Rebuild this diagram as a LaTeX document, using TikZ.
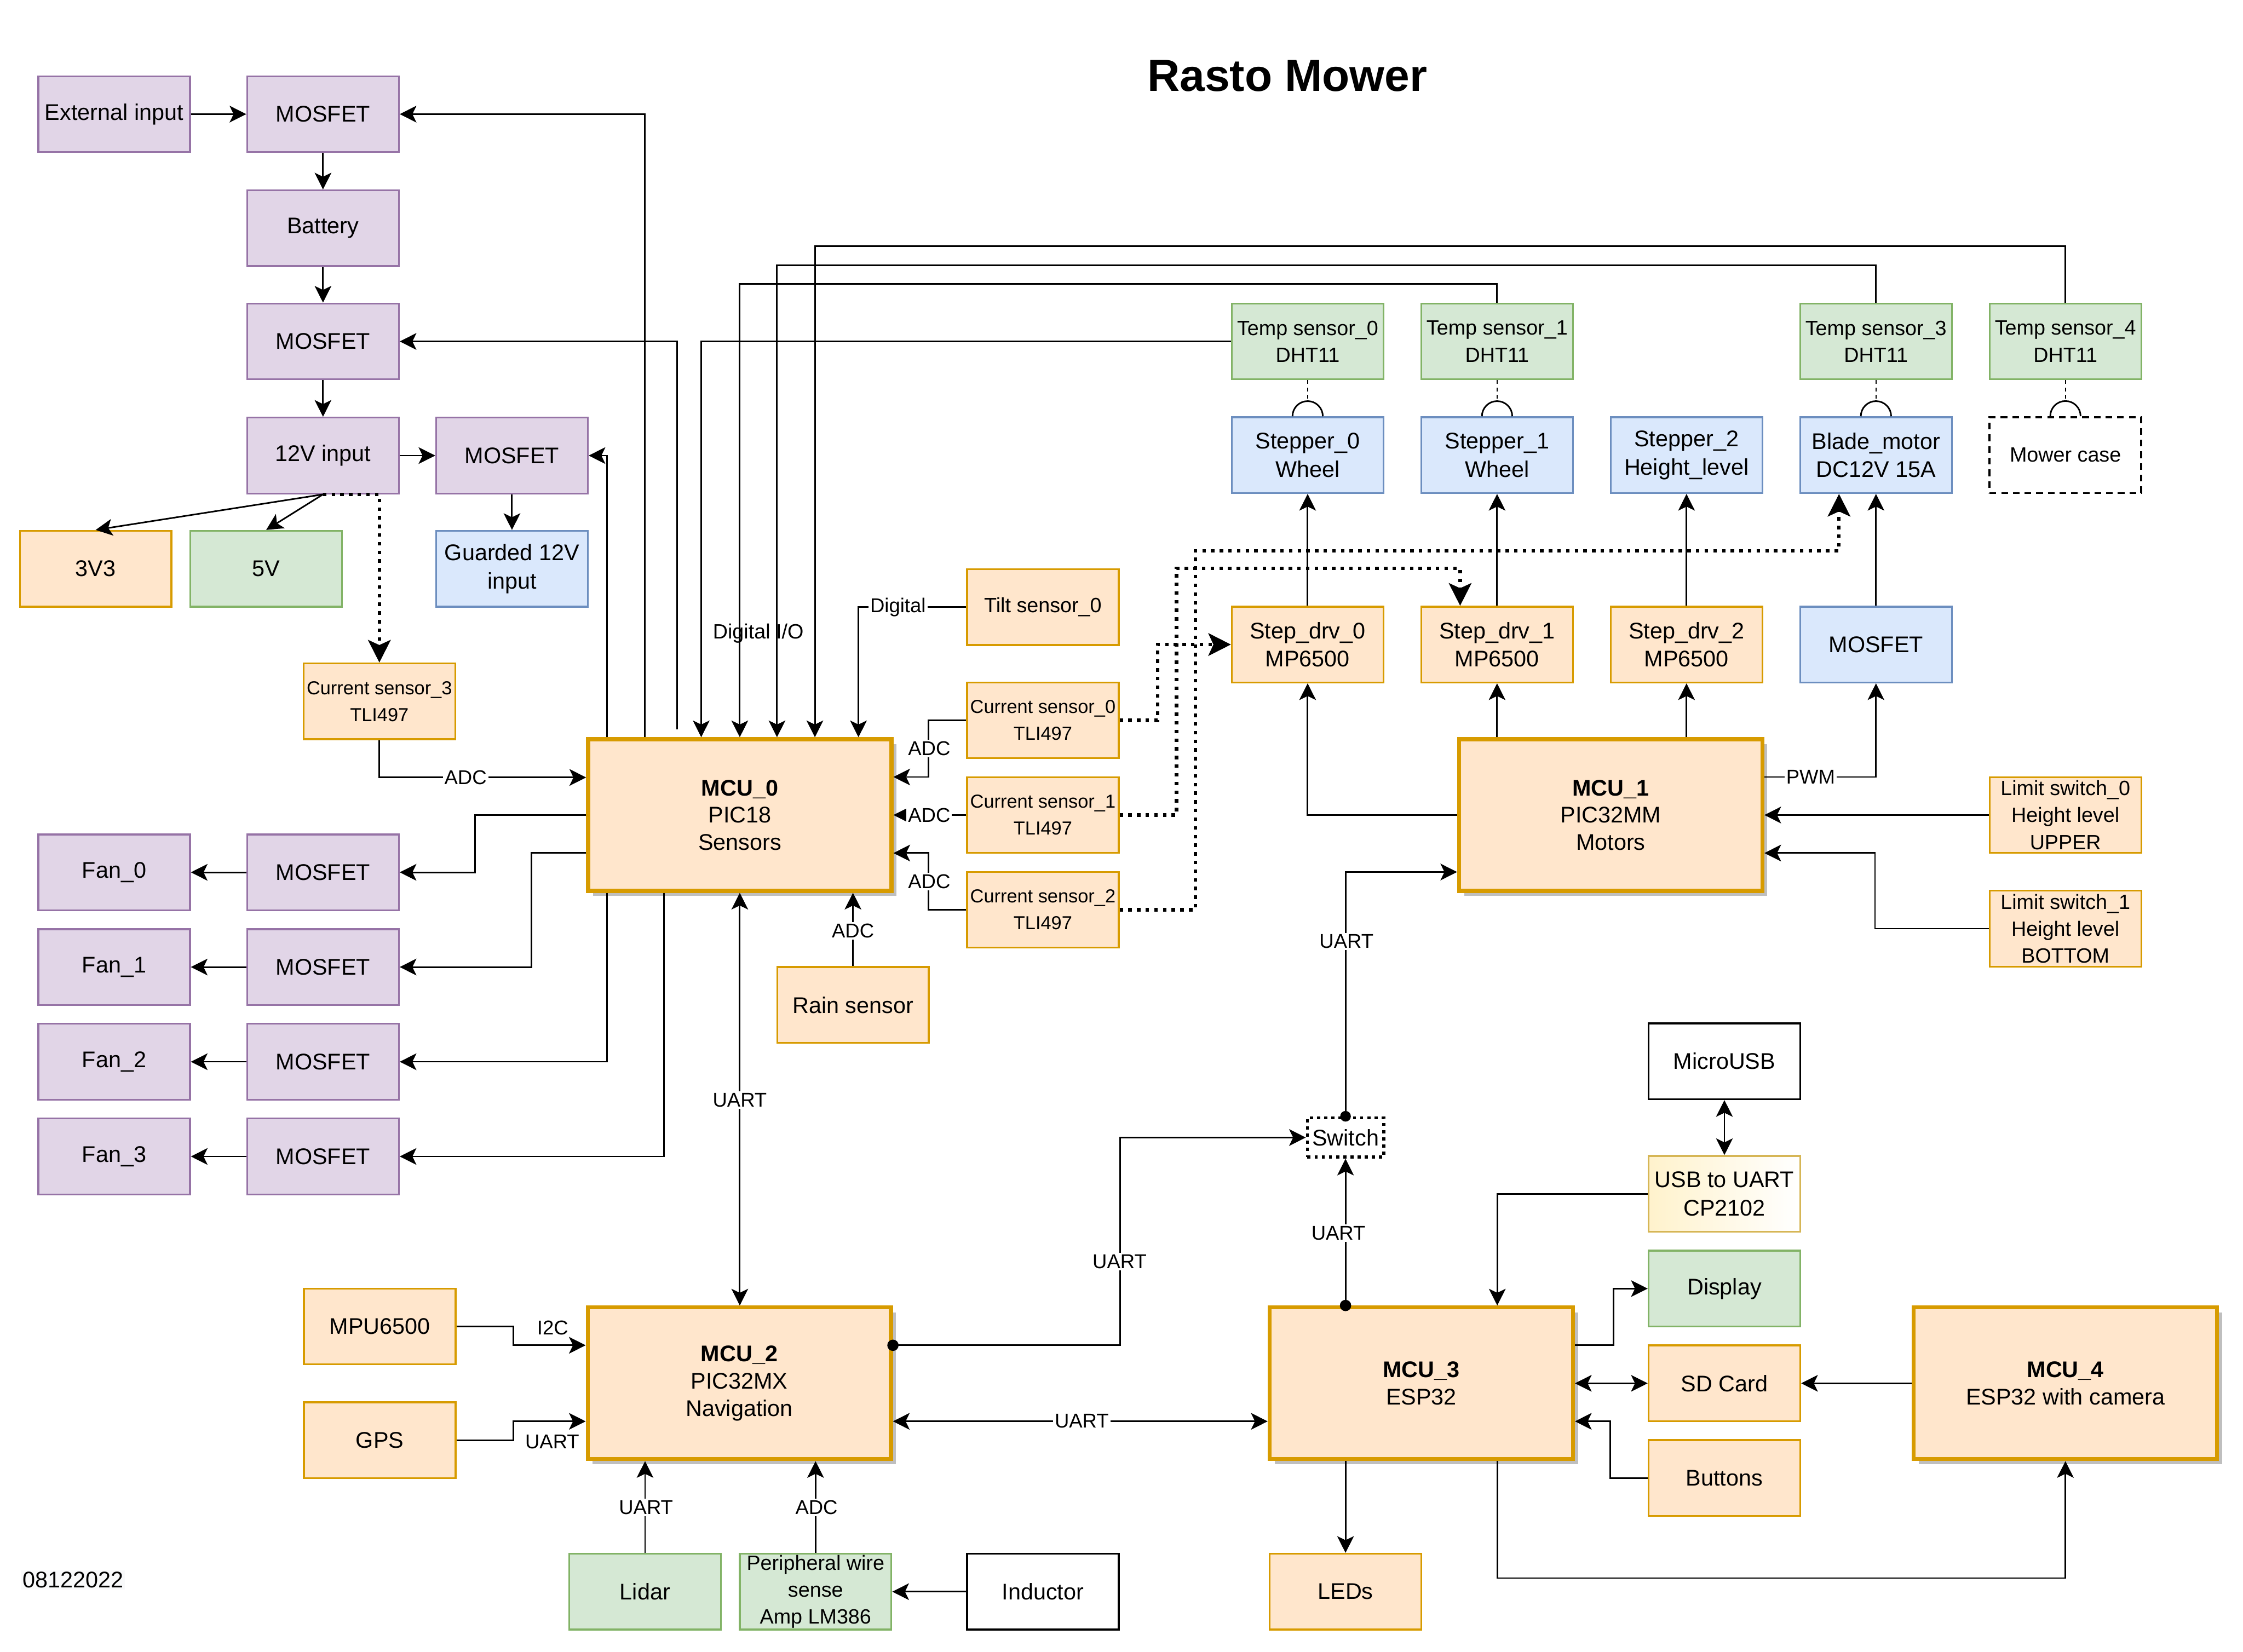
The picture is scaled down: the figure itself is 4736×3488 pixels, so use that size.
\documentclass[tikz,border=0pt]{standalone}
\usepackage{fontspec}
\setmainfont{Liberation Sans}
\usetikzlibrary{arrows.meta,calc,shadows}
\definecolor{pfill}{HTML}{E1D5E7}
\definecolor{pdraw}{HTML}{9673A6}
\definecolor{ofill}{HTML}{FFE6CC}
\definecolor{odraw}{HTML}{D79B00}
\definecolor{gfill}{HTML}{D5E8D4}
\definecolor{gdraw}{HTML}{82B366}
\definecolor{blfill}{HTML}{DAE8FC}
\definecolor{bldraw}{HTML}{6C8EBF}
\definecolor{yfill}{HTML}{FFF2CC}
\definecolor{ydraw}{HTML}{D6B656}
\definecolor{datebg}{HTML}{F8F9FA}
\newcommand\fmain{\fontsize{13.6}{17}\selectfont}
\newcommand\fmcu{\fontsize{13.6}{16.3}\selectfont}
\newcommand\fmid{\fontsize{12.4}{16.2}\selectfont}
\newcommand\fsmall{\fontsize{11.3}{16.2}\selectfont}
\newcommand\flab{\fontsize{12}{14}\selectfont}
\begin{document}
\begin{tikzpicture}[x=0.01cm,y=-0.01cm,
  box/.style={draw, minimum width=3.2cm, minimum height=1.6cm, inner sep=0.5pt, align=center, line width=1.1pt, font=\fmain},
  pbox/.style={box, fill=pfill, draw=pdraw},
  obox/.style={box, fill=ofill, draw=odraw},
  gbox/.style={box, fill=gfill, draw=gdraw},
  bluebox/.style={box, fill=blfill, draw=bldraw},
  wbox/.style={box, fill=white, draw=black},
  mcu/.style={draw=odraw, fill=ofill, line width=2.4pt, minimum width=6.4cm, minimum height=3.2cm, inner sep=1pt, align=center, font=\fmcu, general shadow={fill=black!25, shadow xshift=3pt, shadow yshift=-3pt}},
  conn/.style={line width=0.95pt, -{Stealth[length=10pt,width=10pt,inset=2.4pt]}},
  conn2/.style={line width=0.95pt, {Stealth[length=10pt,width=10pt,inset=2.4pt]}-{Stealth[length=10pt,width=10pt,inset=2.4pt]}},
  dotarr/.style={line width=2.1pt, dash pattern=on 2.1pt off 3.1pt, -{Stealth[length=13.5pt,width=13.5pt,inset=3pt]}},
  dashl/.style={line width=0.8pt, dash pattern=on 2.2pt off 2.2pt},
  jumparc/.style={line width=0.95pt},
  lab/.style={fill=white, inner sep=1pt, font=\flab}
]
\useasboundingbox (0,0) rectangle (4736,3488);

% title and date
\node (title) at (2718,160) {\fontsize{27}{30}\selectfont\bfseries Rasto Mower};
\node[fill=datebg, inner sep=1pt, font=\fmain] (date) at (154,3336) {08122022};

% power chain
\node[pbox] (ext) at (241,241) {External input};
\node[pbox] (mosa) at (682,241) {MOSFET};
\node[pbox] (batt) at (682,482) {Battery};
\node[pbox] (mosb) at (682,721) {MOSFET};
\node[pbox] (v12) at (682,962) {12V input};
\node[pbox] (mosc) at (1081,962) {MOSFET};
\node[obox] (v33) at (202,1201) {3V3};
\node[gbox] (v5) at (562,1201) {5V};
\node[bluebox] (g12) at (1081,1201) {Guarded 12V\\input};
\node[obox, font=\fsmall] (cs3) at (801,1481) {Current sensor\_3\\TLI497};

% fans
\node[pbox] (mf0) at (682,1842) {MOSFET};
\node[pbox] (mf1) at (682,2042) {MOSFET};
\node[pbox] (mf2) at (682,2242) {MOSFET};
\node[pbox] (mf3) at (682,2442) {MOSFET};
\node[pbox] (fan0) at (241,1842) {Fan\_0};
\node[pbox] (fan1) at (241,2042) {Fan\_1};
\node[pbox] (fan2) at (241,2242) {Fan\_2};
\node[pbox] (fan3) at (241,2442) {Fan\_3};

% MCU_0 and sensors
\node[mcu] (mcu0) at (1562,1721) {\textbf{MCU\_0}\\PIC18\\Sensors};
\node[obox] (rain) at (1801,2122) {Rain sensor};
\node[obox, font=\fmid] (tilt) at (2202,1282) {Tilt sensor\_0};
\node[obox, font=\fsmall] (cs0) at (2202,1521) {Current sensor\_0\\TLI497};
\node[obox, font=\fsmall] (cs1) at (2202,1721) {Current sensor\_1\\TLI497};
\node[obox, font=\fsmall] (cs2) at (2202,1921) {Current sensor\_2\\TLI497};

% top row
\node[gbox, font=\fmid] (ts0) at (2761,721) {Temp sensor\_0\\DHT11};
\node[gbox, font=\fmid] (ts1) at (3161,721) {Temp sensor\_1\\DHT11};
\node[gbox, font=\fmid] (ts3) at (3961,721) {Temp sensor\_3\\DHT11};
\node[gbox, font=\fmid] (ts4) at (4361,721) {Temp sensor\_4\\DHT11};
\node[bluebox] (st0) at (2761,961) {Stepper\_0\\Wheel};
\node[bluebox] (st1) at (3161,961) {Stepper\_1\\Wheel};
\node[bluebox] (st2) at (3561,961) {Stepper\_2\\Height\_level};
\node[bluebox] (blade) at (3961,961) {Blade\_motor\\DC12V 15A};
\node[box, fill=white, draw=black, line width=1.2pt, dash pattern=on 4pt off 3pt, font=\fmid] (mower) at (4361,961) {Mower case};
\node[obox] (sd0) at (2761,1361) {Step\_drv\_0\\MP6500};
\node[obox] (sd1) at (3161,1361) {Step\_drv\_1\\MP6500};
\node[obox] (sd2) at (3561,1361) {Step\_drv\_2\\MP6500};
\node[bluebox] (mosbl) at (3961,1361) {MOSFET};
\node[mcu] (mcu1) at (3401,1721) {\textbf{MCU\_1}\\PIC32MM\\Motors};
\node[obox, font=\fmid] (ls0) at (4361,1721) {Limit switch\_0\\Height level\\UPPER};
\node[obox, font=\fmid] (ls1) at (4361,1961) {Limit switch\_1\\Height level\\BOTTOM};

% switch
\node[draw=black, fill=white, line width=1.9pt, dash pattern=on 1.9pt off 2.4pt, minimum width=1.61cm, minimum height=0.83cm, inner sep=0.5pt, font=\fmain] (sw) at (2841,2402) {Switch};

% navigation
\node[mcu] (mcu2) at (1561,2921) {\textbf{MCU\_2}\\PIC32MX\\Navigation};
\node[obox] (mpu) at (802,2801) {MPU6500};
\node[obox] (gps) at (802,3041) {GPS};
\node[gbox] (lidar) at (1362,3361) {Lidar};
\node[gbox, font=\fmid] (peri) at (1722,3361) {Peripheral wire\\sense\\Amp LM386};
\node[wbox] (ind) at (2202,3361) {Inductor};

% ESP32 section
\node[mcu] (mcu3) at (3001,2921) {\textbf{MCU\_3}\\ESP32};
\node[mcu] (mcu4) at (4361,2921) {\textbf{MCU\_4}\\ESP32 with camera};
\node[wbox] (musb) at (3641,2241) {MicroUSB};
\node[box, draw=ydraw, left color=yfill, right color=white] (usbu) at (3641,2521) {USB to UART\\CP2102};
\node[gbox] (disp) at (3641,2721) {Display};
\node[obox] (sdc) at (3641,2921) {SD Card};
\node[obox] (btn) at (3641,3121) {Buttons};
\node[obox] (leds) at (2841,3361) {LEDs};

% ---------------- connectors ----------------
% power
\draw[conn] (ext) -- (mosa);
\draw[conn] (mosa) -- (batt);
\draw[conn] (batt) -- (mosb);
\draw[conn] (mosb) -- (v12);
\draw[conn] (v12) -- (mosc);
\draw[conn] (mosc) -- (g12);
\draw[conn] (v12.south) -- (v33.north);
\draw[conn] (v12.south) -- (v5.north);
\draw[dotarr] (v12.south) -| (cs3.north);

% MCU_0 top
\draw[conn] ($(mcu0.north west)+(124,0)$) |- (mosa.east);
\draw[conn] ($(mcu0.north west)+(192,-16)$) |- (mosb.east);
\draw[conn] ($(mcu0.north west)+(44,0)$) |- (mosc.east);
\draw[conn] (ts0.west) -| ($(mcu0.north west)+(243,0)$);
\draw[conn] (ts1.north) -- ++(0,-40) -| (mcu0.north);
\draw[conn] (ts3.north) -- ++(0,-79) -| ($(mcu0.north west)+(403,0)$);
\draw[conn] (ts4.north) -- ++(0,-119) -| ($(mcu0.north west)+(483,0)$);
\draw[conn] (tilt.west) -| ($(mcu0.north west)+(575,0)$);

% MCU_0 left / bottom
\draw[conn] (cs3.south) |- ($(mcu0.north west)+(0,85)$);
\draw[conn] (mcu0.west) -- ++(-235,0) |- (mf0.east);
\draw[conn] ($(mcu0.south west)+(0,-84)$) -- ++(-115,0) |- (mf1.east);
\draw[conn] ($(mcu0.south west)+(44,0)$) |- (mf2.east);
\draw[conn] ($(mcu0.south west)+(164,0)$) |- (mf3.east);
\draw[conn] (mf0) -- (fan0);
\draw[conn] (mf1) -- (fan1);
\draw[conn] (mf2) -- (fan2);
\draw[conn] (mf3) -- (fan3);
\draw[conn] (rain.north) -- (rain.north |- mcu0.south);
\draw[conn2] (mcu0.south) -- (mcu0.south |- mcu2.north);

% MCU_0 right
\draw[conn] (cs0.west) -- ++(-80,0) |- ($(mcu0.north east)+(0,84)$);
\draw[conn] (cs1.west) -- (cs1.west -| mcu0.east);
\draw[conn] (cs2.west) -- ++(-80,0) |- ($(mcu0.south east)+(0,-84)$);

% current sensors dotted to motors
\draw[dotarr] (cs0.east) -- ++(80,0) |- (sd0.west);
\draw[dotarr] (cs1.east) -- ++(120,0) |- ($(sd1.north west)+(84,-79)$) -- ($(sd1.north west)+(84,0)$);
\draw[dotarr] (cs2.east) -- ++(160,0) |- ($(blade.south west)+(84,120)$) -- ($(blade.south west)+(84,0)$);

% temp sensors to motors (dashed with jump)
\foreach \t/\s in {ts0/st0, ts1/st1, ts3/blade, ts4/mower}{
  \draw[dashl] (\t.south) -- ($(\s.north)+(0,-32)$);
  \draw[jumparc] ($(\s.north)+(-32,0)$) arc[start angle=180, end angle=0, radius=0.32cm];
}

% drivers to motors
\draw[conn] (sd0) -- (st0);
\draw[conn] (sd1) -- (st1);
\draw[conn] (sd2) -- (st2);
\draw[conn] (mosbl) -- (blade);

% MCU_1
\draw[conn] (mcu1.west) -| (sd0.south);
\draw[conn] (sd1.south |- mcu1.north) -- (sd1.south);
\draw[conn] (sd2.south |- mcu1.north) -- (sd2.south);
\draw[conn] ($(mcu1.north east)+(0,84)$) -| (mosbl.south);
\draw[conn] (ls0.west) -- (ls0.west -| mcu1.east);
\draw[conn] (ls1.west) -- ++(-240,0) |- ($(mcu1.south east)+(0,-84)$);

% switch
\draw[conn] (sw.north) |- ($(mcu1.south west)+(0,-44)$);
\fill (sw.north) circle[radius=3.2pt];
\draw[conn] (sw.south |- mcu3.north) -- (sw.south);
\fill (sw.south |- mcu3.north) circle[radius=3.4pt];
\draw[conn] ($(mcu2.north east)+(0,84)$) -- ++(480,0) |- (sw.west);
\fill ($(mcu2.north east)+(0,84)$) circle[radius=3.4pt];

% MCU_2
\draw[conn2] ($(mcu2.south east)+(0,-84)$) -- ($(mcu3.south west)+(0,-84)$);
\draw[conn] (mpu.east) -- ++(120,0) |- ($(mcu2.north west)+(0,84)$);
\draw[conn] (gps.east) -- ++(120,0) |- ($(mcu2.south west)+(0,-84)$);
\draw[conn] (lidar.north) -- (lidar.north |- mcu2.south);
\draw[conn] (peri.north) -- (peri.north |- mcu2.south);
\draw[conn] (ind.west) -- (ind.west -| peri.east);

% ESP32 area
\draw[conn2] (musb) -- (usbu);
\draw[conn] (usbu.west) -| ($(mcu3.north east)+(-164,0)$);
\draw[conn] ($(mcu3.north east)+(0,84)$) -- ++(81,0) |- (disp.west);
\draw[conn2] (mcu3.east) -- (sdc.west);
\draw[conn] (btn.west) -- ++(-79,0) |- ($(mcu3.south east)+(0,-84)$);
\draw[conn] (mcu4.west) -- (sdc.east);
\draw[conn] ($(mcu3.south east)+(-164,0)$) -- ++(0,247) -| (mcu4.south);
\draw[conn] (leds.north |- mcu3.south) -- (leds.north);

% ---------------- labels ----------------
\node[lab] (lADC3) at (983,1642) {ADC};
\node[lab] (lADC0) at (1962,1581) {ADC};
\node[lab] (lADC1) at (1962,1721) {ADC};
\node[lab] (lADC2) at (1962,1862) {ADC};
\node[lab] (lADCr) at (1801,1966) {ADC};
\node[lab] (lU02) at (1562,2323) {UART};
\node[lab] (lDig) at (1896,1282) {Digital};
\node[font=\fmid] (dio) at (1601,1338) {Digital I/O};
\node[lab] (lPWM) at (3823,1641) {PWM};
\node[lab] (lUs1) at (2843,1988) {UART};
\node[lab] (lUs3) at (2826,2604) {UART};
\node[lab] (lUs2) at (2364,2664) {UART};
\node[lab] (lU23) at (2284,3001) {UART};
\node[lab] (lI2C) at (1167,2804) {I2C};
\node[lab] (lUgps) at (1166,3044) {UART};
\node[lab] (lUlid) at (1364,3183) {UART};
\node[lab] (lADCp) at (1724,3183) {ADC};
\end{tikzpicture}
\end{document}
